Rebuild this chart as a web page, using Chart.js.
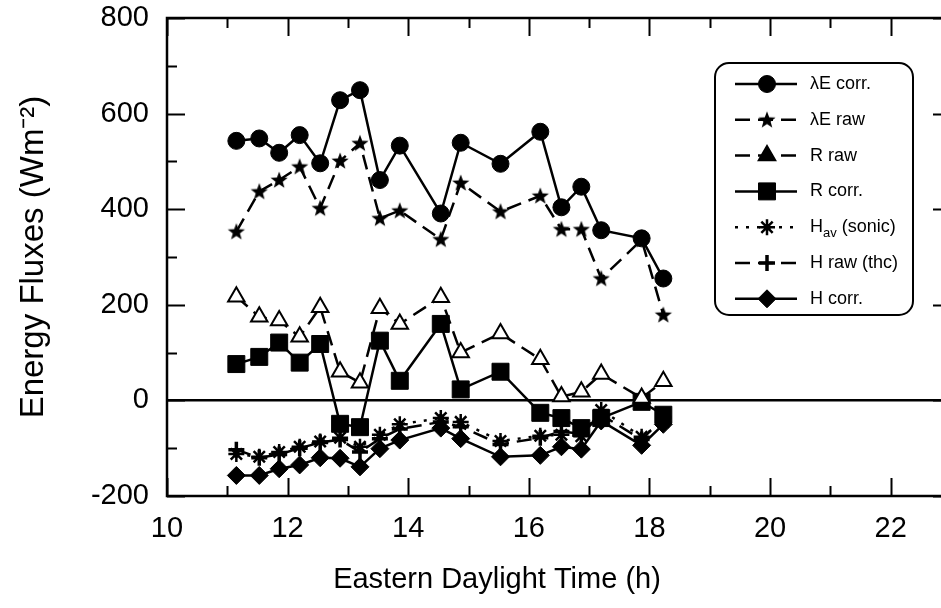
<!DOCTYPE html>
<html>
<head>
<meta charset="utf-8">
<script src="https://cdn.jsdelivr.net/npm/chart.js@4.4.1/dist/chart.umd.min.js"></script>
<style>
  html, body { margin: 0; padding: 0; overflow: hidden; background: #fff; }
</style>
</head>
<body>
<canvas id="myChart" width="964" height="608"></canvas>
<script>
// Eastern Daylight Time (h)
const times = [11.15, 11.53, 11.86, 12.20, 12.54, 12.87, 13.20, 13.53, 13.86, 14.54, 14.87, 15.53, 16.19, 16.54, 16.87, 17.20, 17.87, 18.23];

// series (W m-2)
const lambdaECorr = [543, 548, 518, 555, 496, 628, 649, 461, 533, 391, 539, 495, 562, 404, 447, 356, 339, 255];
const lambdaERaw  = [353, 437, 461, 489, 402, 501, 538, 381, 397, 337, 455, 395, 428, 358, 358, 255, 336, 179];
const rRaw        = [217, 175, 167, 133, 195, 60, 37, 193, 160, 216, 100, 140, 86, 8, 18, 55, 5, 40];
const rCorr       = [76, 91, 121, 79, 118, -49, -56, 125, 41, 160, 23, 60, -26, -37, -58, -37, -3, -30];
const hAv         = [-112, -118, -108, -97, -86, -78, -97, -72, -50, -37, -45, -85, -74, -72, -75, -20, -76, -45];
const hRaw        = [-103, -120, -113, -100, -88, -82, -108, -80, -60, -45, -55, -92, -78, -65, -70, -30, -82, -36];
const hCorr       = [-157, -157, -143, -135, -120, -121, -139, -101, -83, -58, -80, -118, -115, -97, -102, -43, -94, -50];

const seriesNames = ['λE corr.', 'λE raw', 'R raw', 'R corr.', 'Hav (sonic)', 'H raw (thc)', 'H corr.'];

// axis ticks
const xTicks = [10, 12, 14, 16, 18, 20, 22];
const yTicks = [-200, 0, 200, 400, 600, 800];

const FONT = "'Liberation Sans', Arial, sans-serif";

function makeStar(r) {
    const s = Math.ceil(r * 2 + 2);
    const c = document.createElement('canvas');
    c.width = s; c.height = s;
    const g = c.getContext('2d');
    g.fillStyle = '#000';
    g.beginPath();
    for (let i = 0; i < 10; i++) {
        const rad = i % 2 === 0 ? r : r * 0.42;
        const a = -Math.PI / 2 + i * Math.PI / 5;
        g.lineTo(s / 2 + rad * Math.cos(a), s / 2 + rad * Math.sin(a) + 0.5);
    }
    g.closePath();
    g.fill();
    return c;
}
const starImg = makeStar(9);

function pts(values) {
    return values.map((v, i) => ({ x: times[i], y: v }));
}

const DASH = [15, 8];
const styles = [
    { pointStyle: 'circle', pointRadius: 8.5, borderDash: [] },
    { pointStyle: starImg, pointRadius: 9, borderDash: DASH },
    { pointStyle: 'triangle', pointRadius: 9.5, borderDash: DASH, pointBackgroundColor: '#fff', pointBorderWidth: 2 },
    { pointStyle: 'rect', pointRadius: 12, borderDash: [] },
    { pointStyle: 'star', pointRadius: 8, borderDash: [3, 8], pointBorderWidth: 2.5 },
    { pointStyle: 'cross', pointRadius: 8, borderDash: DASH, pointBorderWidth: 3.5 },
    { pointStyle: 'rectRot', pointRadius: 9, borderDash: [] }
];
const allSeries = [lambdaECorr, lambdaERaw, rRaw, rCorr, hAv, hRaw, hCorr];

const datasets = allSeries.map((vals, i) => Object.assign({
    label: seriesNames[i],
    data: pts(vals),
    borderColor: '#000',
    backgroundColor: '#000',
    pointBackgroundColor: '#000',
    pointBorderColor: '#000',
    pointBorderWidth: 1,
    borderWidth: 2.5,
    tension: 0,
    fill: false
}, styles[i]));

// frame with inward ticks (major + minor) on all four sides, plus x title
const framePlugin = {
    id: 'frame',
    afterDatasetsDraw(chart) {
        const { ctx, chartArea: a, scales: { x, y } } = chart;
        ctx.save();
        ctx.strokeStyle = '#000';
        ctx.lineWidth = 2.5;
        ctx.strokeRect(a.left, a.top, a.right - a.left, a.bottom - a.top);
        ctx.lineWidth = 2;
        ctx.beginPath();
        for (let h = x.min; h <= x.max; h += 1) {
            const px = Math.round(x.getPixelForValue(h)) + 0.5;
            const len = h % 2 === 0 ? 18 : 10;
            ctx.moveTo(px, a.bottom); ctx.lineTo(px, a.bottom - len);
            ctx.moveTo(px, a.top); ctx.lineTo(px, a.top + len);
        }
        for (let v = y.min; v <= y.max; v += 100) {
            const py = Math.round(y.getPixelForValue(v)) + 0.5;
            const len = v % 200 === 0 ? 18 : 10;
            ctx.moveTo(a.left, py); ctx.lineTo(a.left + len, py);
            ctx.moveTo(a.right, py); ctx.lineTo(a.right - len, py);
        }
        ctx.stroke();
        // x axis title
        ctx.fillStyle = '#000';
        ctx.font = '29px ' + FONT;
        ctx.textAlign = 'center';
        ctx.textBaseline = 'middle';
        ctx.fillText('Eastern Daylight Time (h)', 497, 580);
        ctx.restore();
    }
};

// boxed legend inside the plot
const legendPlugin = {
    id: 'boxLegend',
    afterDraw(chart) {
        const ctx = chart.ctx;
        const bx = 715, by = 63, bw = 198, bh = 252;
        ctx.save();
        ctx.fillStyle = '#fff';
        ctx.strokeStyle = '#000';
        ctx.lineWidth = 2;
        ctx.beginPath();
        ctx.roundRect(bx, by, bw, bh, 14);
        ctx.fill();
        ctx.stroke();
        chart.data.datasets.forEach((ds, i) => {
            const ry = 84 + i * 35.8;
            ctx.save();
            ctx.strokeStyle = '#000';
            ctx.lineWidth = 2.5;
            ctx.setLineDash(ds.borderDash || []);
            ctx.beginPath();
            ctx.moveTo(735, ry); ctx.lineTo(797, ry);
            ctx.stroke();
            ctx.restore();
            ctx.fillStyle = '#000';
            ctx.strokeStyle = '#000';
            ctx.lineWidth = ds.pointBorderWidth;
            Chart.helpers.drawPoint(ctx, {
                pointStyle: ds.pointStyle,
                radius: ds.pointRadius,
                borderWidth: ds.pointBorderWidth,
                rotation: 0
            }, 767, ry);
            ctx.fillStyle = '#000';
            ctx.textAlign = 'left';
            ctx.textBaseline = 'middle';
            ctx.font = '18px ' + FONT;
            if (i === 4) {
                ctx.fillText('H', 810, ry);
                const w = ctx.measureText('H').width;
                ctx.font = '13px ' + FONT;
                ctx.fillText('av', 810 + w, ry + 6);
                const w2 = ctx.measureText('av').width;
                ctx.font = '18px ' + FONT;
                ctx.fillText(' (sonic)', 810 + w + w2, ry);
            } else {
                ctx.fillText(ds.label, 810, ry);
            }
        });
        ctx.restore();
    }
};

const ctx = document.getElementById('myChart');
new Chart(ctx, {
    type: 'line',
    data: { datasets: datasets },
    options: {
        responsive: false,
        animation: false,
        devicePixelRatio: 1,
        layout: { padding: { top: 18, right: 5, left: 0, bottom: 0 } },
        plugins: {
            legend: { display: false },
            tooltip: { enabled: false }
        },
        scales: {
            x: {
                type: 'linear',
                min: 10,
                max: 23,
                afterBuildTicks: s => { s.ticks = xTicks.map(v => ({ value: v })); },
                afterFit: s => { s.height = 112; },
                ticks: { color: '#000', font: { family: FONT, size: 29 }, padding: 16, maxRotation: 0 },
                grid: { drawOnChartArea: false, drawTicks: false },
                border: { display: false }
            },
            y: {
                min: -200,
                max: 800,
                afterBuildTicks: s => { s.ticks = yTicks.map(v => ({ value: v })); },
                afterFit: s => { s.width = 167; },
                ticks: { color: '#000', font: { family: FONT, size: 29 }, padding: 0 },
                grid: {
                    drawTicks: true,
                    tickLength: 18,
                    tickColor: 'rgba(0,0,0,0)',
                    color: c => (c.tick && c.tick.value === 0 ? '#000' : 'rgba(0,0,0,0)'),
                    lineWidth: 2.5
                },
                border: { display: false },
                title: {
                    display: true,
                    text: 'Energy Fluxes (Wm⁻²)',
                    color: '#000',
                    font: { family: FONT, size: 33 },
                    padding: { top: 14, bottom: 0 }
                }
            }
        }
    },
    plugins: [framePlugin, legendPlugin]
});
</script>
</body>
</html>
